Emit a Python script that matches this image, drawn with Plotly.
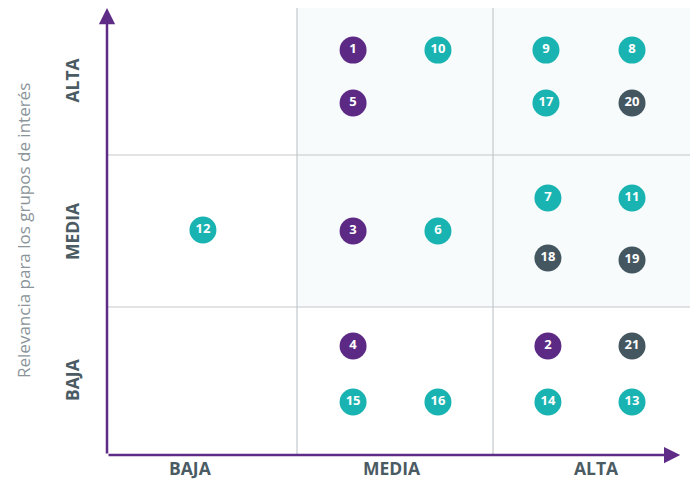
import plotly.graph_objects as go

# ---- data ----
ids = ["1", "10", "9", "8", "5", "17", "20", "12", "3", "6", "7", "11", "18", "19",
       "4", "2", "21", "15", "16", "14", "13"]
x_pos = [1.286, 1.719, 2.270, 2.709, 1.286, 2.270, 2.709, 0.520, 1.286, 1.719,
         2.280, 2.709, 2.280, 2.709, 1.286, 2.280, 2.709, 1.286, 1.719, 2.280, 2.709]
y_pos = [2.690, 2.690, 2.690, 2.690, 2.342, 2.342, 2.342, 1.507, 1.500, 1.500,
         1.717, 1.717, 1.322, 1.309, 0.743, 0.743, 0.743, 0.375, 0.375, 0.375, 0.375]
groups = ["p", "t", "t", "t", "p", "t", "d", "t", "p", "t", "t", "t", "d", "d",
          "p", "p", "d", "t", "t", "t", "t"]
x_labels = ["BAJA", "MEDIA", "ALTA"]
y_labels = ["BAJA", "MEDIA", "ALTA"]
y_title = "Relevancia para los grupos de interés"

colors = {"p": "#5c2a84", "t": "#19b3b1", "d": "#44565f"}
PURPLE = "#5e2b87"
GRID = "#c3c8cb"
LABEL = "#4b5b63"

X0, X1 = 0.0306, 3.015
Y0, Y1 = 0.0263, 2.967

# page body has an 8px margin -> figure offset
W, H = 690, 475
L, R, T, B = 99, 6, 0, 28
pw = W - L - R
ph = H - T - B

fig = go.Figure()

for g in ["p", "t", "d"]:
    idx = [i for i, gg in enumerate(groups) if gg == g]
    fig.add_trace(go.Scatter(
        x=[x_pos[i] for i in idx], y=[y_pos[i] for i in idx],
        mode="markers+text", text=[ids[i] for i in idx],
        marker=dict(size=27, color=colors[g], line=dict(width=0)),
        textfont=dict(family="Open Sans", size=13, color="white", weight="bold"),
        textposition="middle center", hoverinfo="skip", showlegend=False,
        cliponaxis=False,
    ))

shapes = []
shapes.append(dict(type="rect", xref="x", yref="y", x0=1, x1=X1, y0=1, y1=Y1,
                   fillcolor="#f7fbfc", line=dict(width=0), layer="below"))
for v in [1, 2]:
    shapes.append(dict(type="line", xref="x", yref="y", x0=v, x1=v, y0=Y0, y1=Y1,
                       line=dict(color=GRID, width=1.2), layer="below"))
    shapes.append(dict(type="line", xref="x", yref="y", x0=X0, x1=X1, y0=v, y1=v,
                       line=dict(color=GRID, width=1.2), layer="below"))
fig.update_layout(shapes=shapes)

annotations = []
annotations.append(dict(x=2.955, y=Y0, ax=X0, ay=Y0, xref="x", yref="y", axref="x", ayref="y",
                        showarrow=True, arrowhead=2, arrowsize=1.3, arrowwidth=2.5,
                        arrowcolor=PURPLE, text=""))
annotations.append(dict(x=X0, y=Y1, ax=X0, ay=Y0, xref="x", yref="y", axref="x", ayref="y",
                        showarrow=True, arrowhead=2, arrowsize=1.3, arrowwidth=2.5,
                        arrowcolor=PURPLE, text=""))
xc = [0.459, 1.485, 2.526]
for i, t in enumerate(x_labels):
    annotations.append(dict(x=xc[i], y=-(468 - 455) / ph, xref="x", yref="paper", text=t,
                            showarrow=False, xanchor="center", yanchor="middle",
                            font=dict(family="Open Sans", size=17.5, color=LABEL, weight="bold")))
yc = [0.52, 1.50, 2.49]
for i, t in enumerate(y_labels):
    annotations.append(dict(x=(64 - L) / pw, y=yc[i], xref="paper", yref="y", text=t,
                            showarrow=False, textangle=-90, xanchor="center", yanchor="middle",
                            font=dict(family="Open Sans", size=17.5, color=LABEL, weight="bold")))
annotations.append(dict(x=(16 - L) / pw, y=1.50, xref="paper", yref="y", text=y_title,
                        showarrow=False, textangle=-90, xanchor="center", yanchor="middle",
                        font=dict(family="Open Sans", size=17, color="#8a9499")))
fig.update_layout(annotations=annotations)

fig.update_layout(
    width=W, height=H, margin=dict(l=L, r=R, t=T, b=B),
    paper_bgcolor="white", plot_bgcolor="white",
    xaxis=dict(range=[X0, X1], visible=False, fixedrange=True),
    yaxis=dict(range=[Y0, Y1], visible=False, fixedrange=True),
)
fig.write_html("out.html")
